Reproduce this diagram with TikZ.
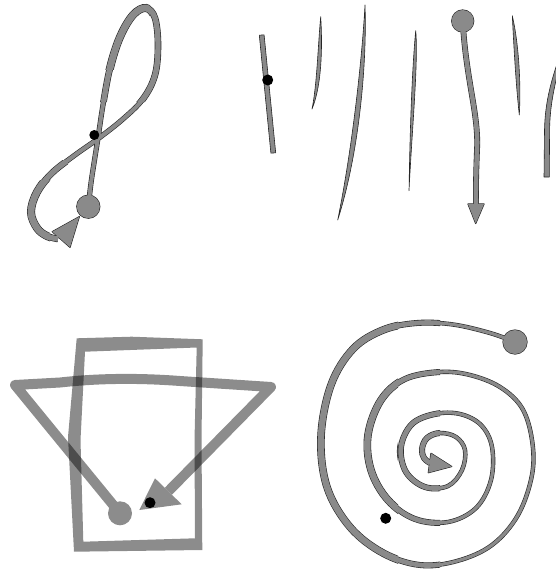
\documentclass[tikz,border=0pt]{standalone}
\definecolor{sg}{gray}{0.54}
\newcommand\fedraw[1]{\draw[#1] plot[smooth, tension=0.6] coordinates {(88.3,206.7) (91,183) (94.5,160) (98,138) (103,105) (110,68) (120,37) (133,15) (146,8) (155,18) (158,45) (155,75) (143,99) (123,119) (99,138) (75,155) (52,173) (37,192) (31,212) (37,228) (47,236) (58,239)};}
\newcommand\spdraw[1]{\draw[#1] plot[smooth, tension=0.6] coordinates {(515,342) (490,333) (453,324.5) (417,323) (383,330) (353,349) (331,385) (321,437) (327,487) (350,527) (383,553) (420,565) (457,561) (492,545) (518,515) (532,475) (532,440) (522,408) (500,387) (470,375) (440,372) (405,379) (381,400) (368,435) (371,470) (388,500) (415,519) (448,522) (476,508) (491,480) (492,447) (481,425) (460,414) (435,414) (412,424) (401,447) (406,472) (425,487) (448,486) (462,470) (465,450) (456,437) (440,433) (427,438) (422,449) (424,458) (430,463)};}
\begin{document}
\begin{tikzpicture}[x=1pt,y=-1pt,
  outl/.style={double=sg, double distance=#1, draw=black!85, line width=0.6pt, line cap=butt, line join=round},
  thinstroke/.style={fill=sg, draw=black!85, line width=0.6pt, line join=round},
  headout/.style={fill=black!85, draw=black!85, line width=1.2pt, line join=round},
  dot/.style={fill=black}]
\useasboundingbox (0,0) rectangle (556,578);

% ---------- panel 1: figure eight ----------
\fill[black!85] (88.3,206.7) circle[radius=12.1pt];
\path[headout] (79.3,216.7) -- (52.3,231.7) -- (70,247.3) -- cycle;
\fedraw{black!85, line width=5.2pt}
\begin{scope}\clip (0,0) rectangle (200,102) (0,160) rectangle (68,250); \fedraw{black!85, line width=6.6pt}\end{scope}
\begin{scope}\clip (0,0) rectangle (150,70) (0,180) rectangle (50,250); \fedraw{black!85, line width=8pt}\end{scope}
\fedraw{sg, line width=4pt}
\begin{scope}\clip (0,0) rectangle (200,102) (0,160) rectangle (68,250); \fedraw{sg, line width=5.4pt}\end{scope}
\begin{scope}\clip (0,0) rectangle (150,70) (0,180) rectangle (50,250); \fedraw{sg, line width=6.8pt}\end{scope}
\fill[sg] (88.3,206.7) circle[radius=11.5pt];
\fill[sg] (79.3,216.7) -- (52.3,231.7) -- (70,247.3) -- cycle;
\fill[dot] (94.3,135) circle[radius=5pt];

% ---------- panel 2: strokes ----------
\filldraw[thinstroke] (259.3,35.2) -- (264.1,34.8) -- (275.7,152.8) -- (270.9,153.2) -- cycle;
\fill[dot] (267.7,80) circle[radius=5.5pt];
\filldraw[thinstroke] (320.7,16.7) .. controls (322.5,45) and (322,85) .. (312,109) .. controls (317,85) and (318,45) .. (320.7,16.7) -- cycle;
\filldraw[thinstroke] (365,5) .. controls (362,60) and (352,150) .. (337.7,220) .. controls (360,150) and (367,60) .. (365,5) -- cycle;
\filldraw[thinstroke] (415.7,30.7) .. controls (412,70) and (410,130) .. (409,190.7) .. controls (412,130) and (418.5,60) .. (415.7,30.7) -- cycle;
\filldraw[thinstroke] (512.3,15.7) .. controls (514,50) and (516,85) .. (519.3,115) .. controls (521,85) and (519,45) .. (512.3,15.7) -- cycle;
\filldraw[thinstroke] (544,177) -- (544.5,130) .. controls (545,105) and (550,85) .. (557,64) -- (557,76) .. controls (553,93) and (549.8,110) .. (549.6,130) -- (549.3,177) -- cycle;
% arrow stroke
\fill[black!85] (462.7,21) circle[radius=11.6pt];
\path[headout] (468,204) -- (484,204) -- (475.7,223.5) -- cycle;
\draw[outl=4.6pt] (462.7,21) .. controls (466,80) and (479,115) .. (477,150) .. controls (476,175) and (475.8,190) .. (476,204.5);
\fill[sg] (462.7,21) circle[radius=11pt];
\fill[sg] (468,204) -- (484,204) -- (475.7,223.5) -- cycle;

% ---------- panel 3: rectangle and triangle ----------
\begin{scope}[transparency group, opacity=0.45]
\fill[black, even odd rule] (76.7,338.3) -- (131.7,336.7) -- (202.7,339.3) -- (201.5,440) -- (202.3,550) -- (74,551.7) -- (68,437) -- cycle
  (85,351.7) -- (196.7,347.5) -- (194.5,440) -- (195,538.3) -- (83.3,541.7) -- (80.5,440) -- cycle;
\end{scope}
\begin{scope}[transparency group, opacity=0.45]
\fill[black] (120,513.3) circle[radius=12pt];
\draw[black, line width=10pt, line join=round] (120,513.3) -- (15,385) -- (60,382.5) .. controls (100,378) and (140,378) .. (180,381) -- (271,387) -- (168.3,491.3);
\fill[black] (139.3,510) -- (155,478.3) -- (181.7,504.3) -- cycle;
\end{scope}
\fill[dot] (150,502.7) circle[radius=5.5pt];

% ---------- panel 4: spiral ----------
\fill[black!85] (515,342) circle[radius=12.6pt];
\path[headout] (451.7,466.5) -- (431,453.3) -- (428.3,472.7) -- cycle;
\spdraw{black!85, line width=4.4pt}
\begin{scope}\clip (300,300) rectangle (440,580); \spdraw{black!85, line width=6pt}\end{scope}
\begin{scope}\clip (300,300) rectangle (398,580); \spdraw{black!85, line width=7.6pt}\end{scope}
\spdraw{sg, line width=3.2pt}
\begin{scope}\clip (300,300) rectangle (440,580); \spdraw{sg, line width=4.8pt}\end{scope}
\begin{scope}\clip (300,300) rectangle (398,580); \spdraw{sg, line width=6.4pt}\end{scope}
\fill[sg] (515,342) circle[radius=12pt];
\fill[sg] (451.7,466.5) -- (431,453.3) -- (428.3,472.7) -- cycle;
\fill[dot] (385.7,518.3) circle[radius=5.5pt];
\end{tikzpicture}
\end{document}
